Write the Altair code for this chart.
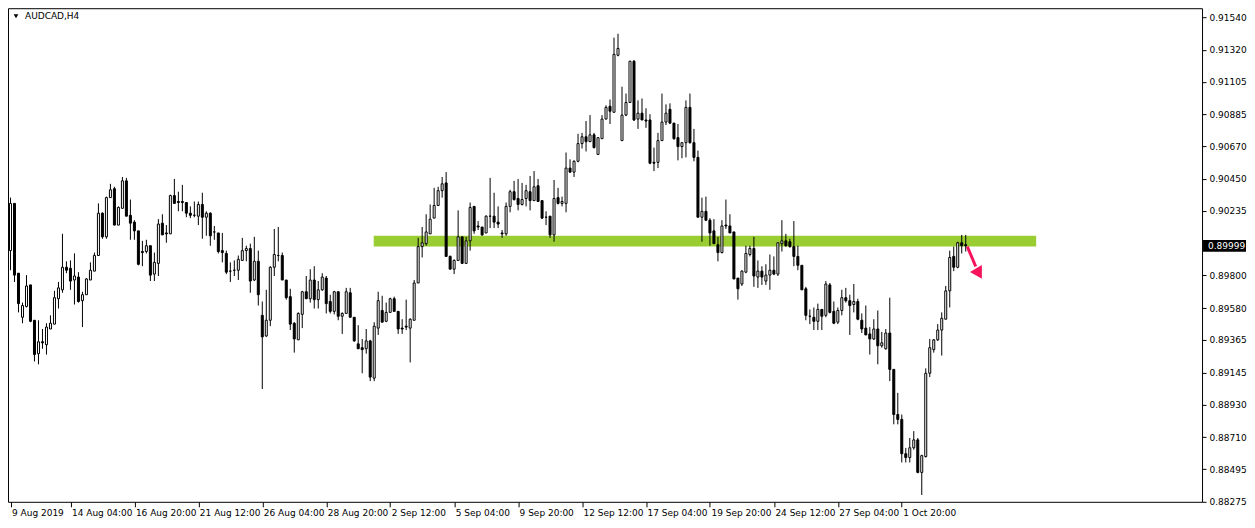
import json
import altair as alt
import pandas as pd

symbol_title = "AUDCAD,H4"

open_ = [0.89967,0.90285,0.89815,0.89518,0.89591,0.89736,0.89498,0.89273,0.89353,0.89333,
0.89439,0.89472,0.89643,0.89703,0.89855,0.89848,0.89769,0.89789,0.89630,0.89670,
0.89769,0.89829,0.89934,0.90219,0.90060,0.90324,0.90384,0.90139,0.90252,0.90437,
0.90205,0.90159,0.90100,0.89961,0.89961,0.90000,0.89809,0.89881,0.90152,0.90086,
0.90080,0.90338,0.90298,0.90298,0.90291,0.90219,0.90205,0.90199,0.90278,0.90192,
0.90219,0.90093,0.90086,0.89967,0.89948,0.89829,0.89835,0.89835,0.89901,0.89967,
0.89981,0.89769,0.89895,0.89531,0.89392,0.89498,0.89855,0.89934,0.89934,0.89769,
0.89657,0.89478,0.89366,0.89538,0.89690,0.89643,0.89769,0.89637,0.89703,0.89782,
0.89624,0.89558,0.89690,0.89525,0.89544,0.89683,0.89518,0.89339,0.89313,0.89306,
0.89359,0.89108,0.89445,0.89564,0.89491,0.89551,0.89643,0.89558,0.89445,0.89458,
0.89445,0.89498,0.89749,0.89994,0.90014,0.90080,0.90186,0.90271,0.90371,0.90423,
0.89928,0.89842,0.89901,0.90060,0.89881,0.90033,0.90265,0.90133,0.90126,0.90086,
0.90199,0.90199,0.90159,0.90086,0.90080,0.90265,0.90364,0.90318,0.90278,0.90318,
0.90364,0.90304,0.90404,0.90304,0.90192,0.90199,0.90073,0.90324,0.90285,0.90285,
0.90523,0.90496,0.90569,0.90688,0.90734,0.90701,0.90747,0.90615,0.90721,0.90853,
0.90939,0.90899,0.91283,0.90708,0.90880,0.90965,0.91243,0.90853,0.90893,0.90847,
0.90847,0.90562,0.90562,0.90708,0.90833,0.90919,0.90826,0.90728,0.90668,0.90694,
0.90932,0.90694,0.90595,0.90192,0.90232,0.90172,0.90100,0.90007,0.89954,0.90139,
0.90133,0.90093,0.89782,0.89742,0.89822,0.89941,0.89981,0.89789,0.89829,0.89762,
0.89802,0.89835,0.89809,0.90014,0.90033,0.90027,0.89994,0.89928,0.89868,0.89710,
0.89525,0.89518,0.89491,0.89571,0.89531,0.89736,0.89558,0.89485,0.89564,0.89650,
0.89630,0.89604,0.89624,0.89498,0.89445,0.89406,0.89372,0.89439,0.89326,0.89306,
0.89412,0.89167,0.88863,0.88830,0.88599,0.88573,0.88639,0.88692,0.88473,0.88580,
0.89141,0.89300,0.89366,0.89432,0.89505,0.89696,0.89928,0.89855,0.90020,0.90007]

high = [0.90324,0.90285,0.89815,0.89617,0.89802,0.89736,0.89498,0.89498,0.89439,0.89478,
0.89531,0.89696,0.89756,0.90080,0.89895,0.89901,0.89948,0.89822,0.89690,0.89782,
0.89888,0.89954,0.90285,0.90225,0.90331,0.90417,0.90397,0.90265,0.90463,0.90457,
0.90311,0.90172,0.90100,0.90033,0.90040,0.90000,0.89954,0.90179,0.90212,0.90139,
0.90344,0.90450,0.90364,0.90410,0.90291,0.90265,0.90298,0.90298,0.90357,0.90232,
0.90225,0.90133,0.90086,0.90086,0.89967,0.89888,0.89901,0.89934,0.90053,0.90000,
0.90014,0.90060,0.89967,0.89624,0.89703,0.89862,0.90113,0.90126,0.89954,0.89769,
0.89710,0.89485,0.89551,0.89696,0.89796,0.89842,0.89862,0.89762,0.89815,0.89796,
0.89670,0.89696,0.89690,0.89551,0.89716,0.89716,0.89518,0.89465,0.89372,0.89439,
0.89366,0.89485,0.89690,0.89663,0.89617,0.89650,0.89657,0.89558,0.89505,0.89637,
0.89511,0.89769,0.90053,0.90126,0.90212,0.90278,0.90390,0.90397,0.90463,0.90496,
0.89934,0.89908,0.90238,0.90060,0.90060,0.90291,0.90265,0.90166,0.90126,0.90205,
0.90457,0.90357,0.90265,0.90106,0.90291,0.90377,0.90437,0.90450,0.90423,0.90410,
0.90470,0.90503,0.90450,0.90304,0.90232,0.90199,0.90443,0.90390,0.90331,0.90628,
0.90582,0.90575,0.90754,0.90760,0.90840,0.90880,0.90760,0.90728,0.90880,0.90946,
0.90985,0.91402,0.91428,0.91071,0.91025,0.91243,0.91250,0.90979,0.90992,0.90926,
0.90886,0.90661,0.90760,0.91025,0.90952,0.90959,0.90826,0.90820,0.90694,0.90979,
0.91025,0.90787,0.90641,0.90324,0.90331,0.90186,0.90179,0.90060,0.90172,0.90311,
0.90212,0.90093,0.89782,0.89835,0.90000,0.90000,0.90060,0.89901,0.89862,0.89875,
0.89941,0.89928,0.90020,0.90172,0.90080,0.90047,0.90166,0.90000,0.89868,0.89723,
0.89571,0.89584,0.89610,0.89571,0.89762,0.89749,0.89624,0.89584,0.89703,0.89716,
0.89670,0.89742,0.89643,0.89544,0.89597,0.89452,0.89505,0.89564,0.89419,0.89439,
0.89650,0.89167,0.89009,0.88863,0.88638,0.88705,0.88751,0.88705,0.88592,0.89174,
0.89372,0.89372,0.89472,0.89551,0.89729,0.89967,0.89994,0.90027,0.90073,0.90073]

low = [0.89835,0.89756,0.89551,0.89478,0.89584,0.89485,0.89220,0.89201,0.89306,0.89267,
0.89439,0.89472,0.89577,0.89683,0.89815,0.89703,0.89604,0.89617,0.89452,0.89670,
0.89769,0.89829,0.89934,0.90047,0.90047,0.90324,0.90139,0.90139,0.90252,0.90199,
0.90040,0.90040,0.89868,0.89862,0.89948,0.89762,0.89762,0.89796,0.90073,0.90020,
0.90080,0.90285,0.90232,0.90232,0.90192,0.90186,0.90192,0.90139,0.90047,0.90067,
0.90000,0.90040,0.89948,0.89888,0.89809,0.89756,0.89796,0.89769,0.89901,0.89895,
0.89683,0.89762,0.89597,0.89035,0.89386,0.89458,0.89796,0.89895,0.89769,0.89637,
0.89432,0.89280,0.89366,0.89445,0.89643,0.89617,0.89577,0.89577,0.89696,0.89544,
0.89544,0.89538,0.89498,0.89406,0.89544,0.89518,0.89353,0.89306,0.89141,0.89273,
0.89088,0.89088,0.89399,0.89485,0.89485,0.89551,0.89558,0.89406,0.89406,0.89432,
0.89214,0.89498,0.89749,0.89921,0.90000,0.90080,0.90186,0.90271,0.90324,0.89928,
0.89842,0.89809,0.89901,0.89881,0.89881,0.89967,0.90080,0.90106,0.90067,0.90086,
0.90119,0.90119,0.90119,0.90053,0.90067,0.90225,0.90304,0.90238,0.90271,0.90265,
0.90238,0.90304,0.90298,0.90179,0.90139,0.90053,0.90027,0.90278,0.90265,0.90225,
0.90490,0.90463,0.90562,0.90655,0.90635,0.90701,0.90655,0.90615,0.90721,0.90853,
0.90820,0.90899,0.91276,0.90708,0.90873,0.90965,0.90840,0.90787,0.90847,0.90794,
0.90549,0.90503,0.90523,0.90708,0.90813,0.90820,0.90714,0.90575,0.90589,0.90595,
0.90688,0.90569,0.90192,0.90027,0.90166,0.90000,0.90014,0.89895,0.89948,0.90113,
0.90086,0.89776,0.89637,0.89729,0.89815,0.89928,0.89723,0.89716,0.89736,0.89736,
0.89703,0.89802,0.89796,0.89961,0.89994,0.89987,0.89862,0.89835,0.89703,0.89498,
0.89472,0.89432,0.89432,0.89432,0.89518,0.89544,0.89472,0.89472,0.89531,0.89617,
0.89399,0.89551,0.89498,0.89412,0.89399,0.89267,0.89366,0.89201,0.89313,0.89300,
0.89088,0.88797,0.88797,0.88540,0.88540,0.88540,0.88626,0.88467,0.88321,0.88573,
0.89115,0.89280,0.89359,0.89260,0.89505,0.89584,0.89829,0.89848,0.89948,0.89961]

close = [0.90285,0.89802,0.89610,0.89597,0.89729,0.89491,0.89267,0.89353,0.89346,0.89452,
0.89478,0.89650,0.89716,0.89855,0.89835,0.89762,0.89796,0.89624,0.89670,0.89776,
0.89835,0.89934,0.90219,0.90060,0.90324,0.90377,0.90139,0.90258,0.90437,0.90199,
0.90152,0.90100,0.89875,0.89954,0.90000,0.89802,0.89888,0.90146,0.90073,0.90080,
0.90338,0.90285,0.90291,0.90291,0.90219,0.90205,0.90205,0.90278,0.90192,0.90219,
0.90067,0.90093,0.89961,0.89954,0.89822,0.89829,0.89835,0.89908,0.89967,0.89981,
0.89762,0.89895,0.89670,0.89386,0.89498,0.89855,0.89941,0.89934,0.89769,0.89650,
0.89472,0.89372,0.89544,0.89690,0.89643,0.89769,0.89637,0.89703,0.89789,0.89610,
0.89558,0.89690,0.89525,0.89544,0.89690,0.89518,0.89359,0.89306,0.89300,0.89359,
0.89115,0.89458,0.89630,0.89485,0.89551,0.89643,0.89558,0.89439,0.89439,0.89452,
0.89505,0.89749,0.89994,0.90020,0.90093,0.90179,0.90271,0.90371,0.90417,0.89928,
0.89842,0.89901,0.90060,0.89881,0.90033,0.90258,0.90100,0.90126,0.90073,0.90199,
0.90199,0.90159,0.90146,0.90080,0.90265,0.90364,0.90311,0.90278,0.90311,0.90371,
0.90304,0.90397,0.90298,0.90186,0.90192,0.90073,0.90318,0.90285,0.90298,0.90523,
0.90496,0.90569,0.90688,0.90734,0.90701,0.90747,0.90661,0.90728,0.90853,0.90932,
0.90906,0.91289,0.91329,0.90880,0.90965,0.91243,0.90847,0.90893,0.90847,0.90840,
0.90556,0.90556,0.90708,0.90833,0.90893,0.90826,0.90721,0.90668,0.90694,0.90932,
0.90694,0.90595,0.90192,0.90232,0.90172,0.90086,0.90014,0.89954,0.90133,0.90133,
0.90086,0.89776,0.89710,0.89829,0.89948,0.89981,0.89796,0.89829,0.89789,0.89802,
0.89835,0.89809,0.90020,0.90033,0.90000,0.89994,0.89928,0.89868,0.89703,0.89531,
0.89525,0.89491,0.89571,0.89525,0.89742,0.89551,0.89478,0.89564,0.89650,0.89630,
0.89597,0.89624,0.89505,0.89439,0.89399,0.89372,0.89439,0.89326,0.89346,0.89412,
0.89167,0.88863,0.88830,0.88599,0.88573,0.88639,0.88692,0.88473,0.88586,0.89141,
0.89313,0.89366,0.89432,0.89511,0.89696,0.89921,0.89855,0.90020,0.90000,0.89999]

tick_bars = [0, 15, 31, 47, 63, 79, 95, 111, 127, 143, 159, 175, 191, 207, 223]
tick_labels = ["9 Aug 2019", "14 Aug 04:00", "16 Aug 20:00", "21 Aug 12:00",
               "26 Aug 04:00", "28 Aug 20:00", "2 Sep 12:00", "5 Sep 04:00",
               "9 Sep 20:00", "12 Sep 12:00", "17 Sep 04:00", "19 Sep 20:00",
               "24 Sep 12:00", "27 Sep 04:00", "1 Oct 20:00"]
price_ticks = [0.91540, 0.91320, 0.91105, 0.90885, 0.90670, 0.90450, 0.90235,
               0.89800, 0.89580, 0.89365, 0.89145, 0.88930, 0.88710, 0.88495, 0.88275]

zone_bars = [90.875, 256.625]
zone_prices = [0.89994, 0.90067]
arrow_bars = [239.4, 241.5]
arrow_prices = [0.89994, 0.89860]
arrow_head_bar = [242.3]
arrow_head_price = [0.89812]
last_price = 0.89999

W, H = 1195, 494
FONT = "DejaVu Sans"
ARROW = "#F8145C"

n = len(open_)
df = pd.DataFrame({"bar": list(range(n)), "open": open_, "high": high,
                   "low": low, "close": close})
df["up"] = df["close"] >= df["open"]
df["body_top"] = df[["open", "close"]].max(axis=1)
df["body_bot"] = df[["open", "close"]].min(axis=1)

xscale = alt.Scale(domain=[-0.625, W / 4 - 0.625], nice=False, zero=False, padding=0)
yscale = alt.Scale(domain=[0.88275, 0.91600], nice=False, zero=False, padding=0)

label_expr = "{}[indexof({}, datum.value)]".format(json.dumps(tick_labels), json.dumps(tick_bars))

xaxis = alt.Axis(values=tick_bars, labelExpr=label_expr, orient="bottom", grid=False,
                 domain=False, ticks=True, tickSize=5, tickColor="black",
                 labelAlign="left", labelBaseline="top", labelPadding=2, labelOffset=1,
                 labelFont=FONT, labelFontSize=9, labelColor="black",
                 labelFlush=False, labelOverlap=False, title=None)
yaxis = alt.Axis(values=price_ticks, format=".5f", orient="right", grid=False,
                 domain=False, ticks=True, tickSize=4, tickColor="black",
                 labelPadding=3, labelFont=FONT, labelFontSize=9, labelColor="black",
                 labelOverlap=False, labelFlush=False, title=None)


def X(field):
    return alt.X(field, scale=xscale, axis=xaxis)


def Y(field):
    return alt.Y(field, scale=yscale, axis=yaxis)


base = alt.Chart(df)

wicks = base.mark_rule(color="black", strokeWidth=1).encode(
    x=X("bar:Q"), y=Y("low:Q"), y2="high:Q",
)

bodies = base.mark_bar(width=2, stroke="black", strokeWidth=1).encode(
    x=X("bar:Q"),
    y=Y("body_bot:Q"),
    y2="body_top:Q",
    fill=alt.condition("datum.up", alt.value("white"), alt.value("black")),
)

zone_df = pd.DataFrame({"x1": [zone_bars[0]], "x2": [zone_bars[1]],
                        "lo": [zone_prices[0]], "hi": [zone_prices[1]]})
zone = alt.Chart(zone_df).mark_rect(color="#9ACD32").encode(
    x=X("x1:Q"), x2="x2:Q", y=Y("lo:Q"), y2="hi:Q",
)

arrow_df = pd.DataFrame({"x1": [arrow_bars[0]], "x2": [arrow_bars[1]],
                         "y1": [arrow_prices[0]], "y2": [arrow_prices[1]]})
arrow_shaft = alt.Chart(arrow_df).mark_rule(color=ARROW, strokeWidth=3).encode(
    x=X("x1:Q"), x2="x2:Q", y=Y("y1:Q"), y2="y2:Q",
)
head_df = pd.DataFrame({"x": arrow_head_bar, "y": arrow_head_price})
arrow_head = alt.Chart(head_df).mark_point(shape="triangle-up", filled=True, opacity=1,
                                          size=190, angle=150, color=ARROW).encode(
    x=X("x:Q"), y=Y("y:Q"),
)

title_df = pd.DataFrame({"t": [symbol_title]})
title_text = alt.Chart(title_df).mark_text(align="left", baseline="middle", font=FONT,
                                           fontSize=9, color="black").encode(
    x=alt.value(17), y=alt.value(8), text="t:N")
title_tri = alt.Chart(title_df).mark_point(shape="triangle-down", filled=True, opacity=1,
                                           size=22, color="black").encode(
    x=alt.value(8), y=alt.value(8))

lp_df = pd.DataFrame({"p": [last_price], "lo": [last_price - 0.00040],
                      "hi": [last_price + 0.00040], "t": ["%.5f" % last_price]})
lp_box = alt.Chart(lp_df).mark_rect(color="black").encode(
    x=alt.value(W + 1), x2=alt.value(W + 44),
    y=Y("lo:Q"), y2="hi:Q")
lp_text = alt.Chart(lp_df).mark_text(align="left", baseline="middle", font=FONT,
                                     fontSize=9, color="white").encode(
    x=alt.value(W + 6), y=Y("p:Q"), text="t:N")

chart = alt.layer(zone, wicks, bodies, arrow_shaft, arrow_head, title_tri, title_text,
                  lp_box, lp_text).properties(
    width=W, height=H, padding=0, background="white"
).configure_view(stroke="black", strokeWidth=1)

chart.save("out.html", embed_options={"renderer": "svg", "actions": False})
